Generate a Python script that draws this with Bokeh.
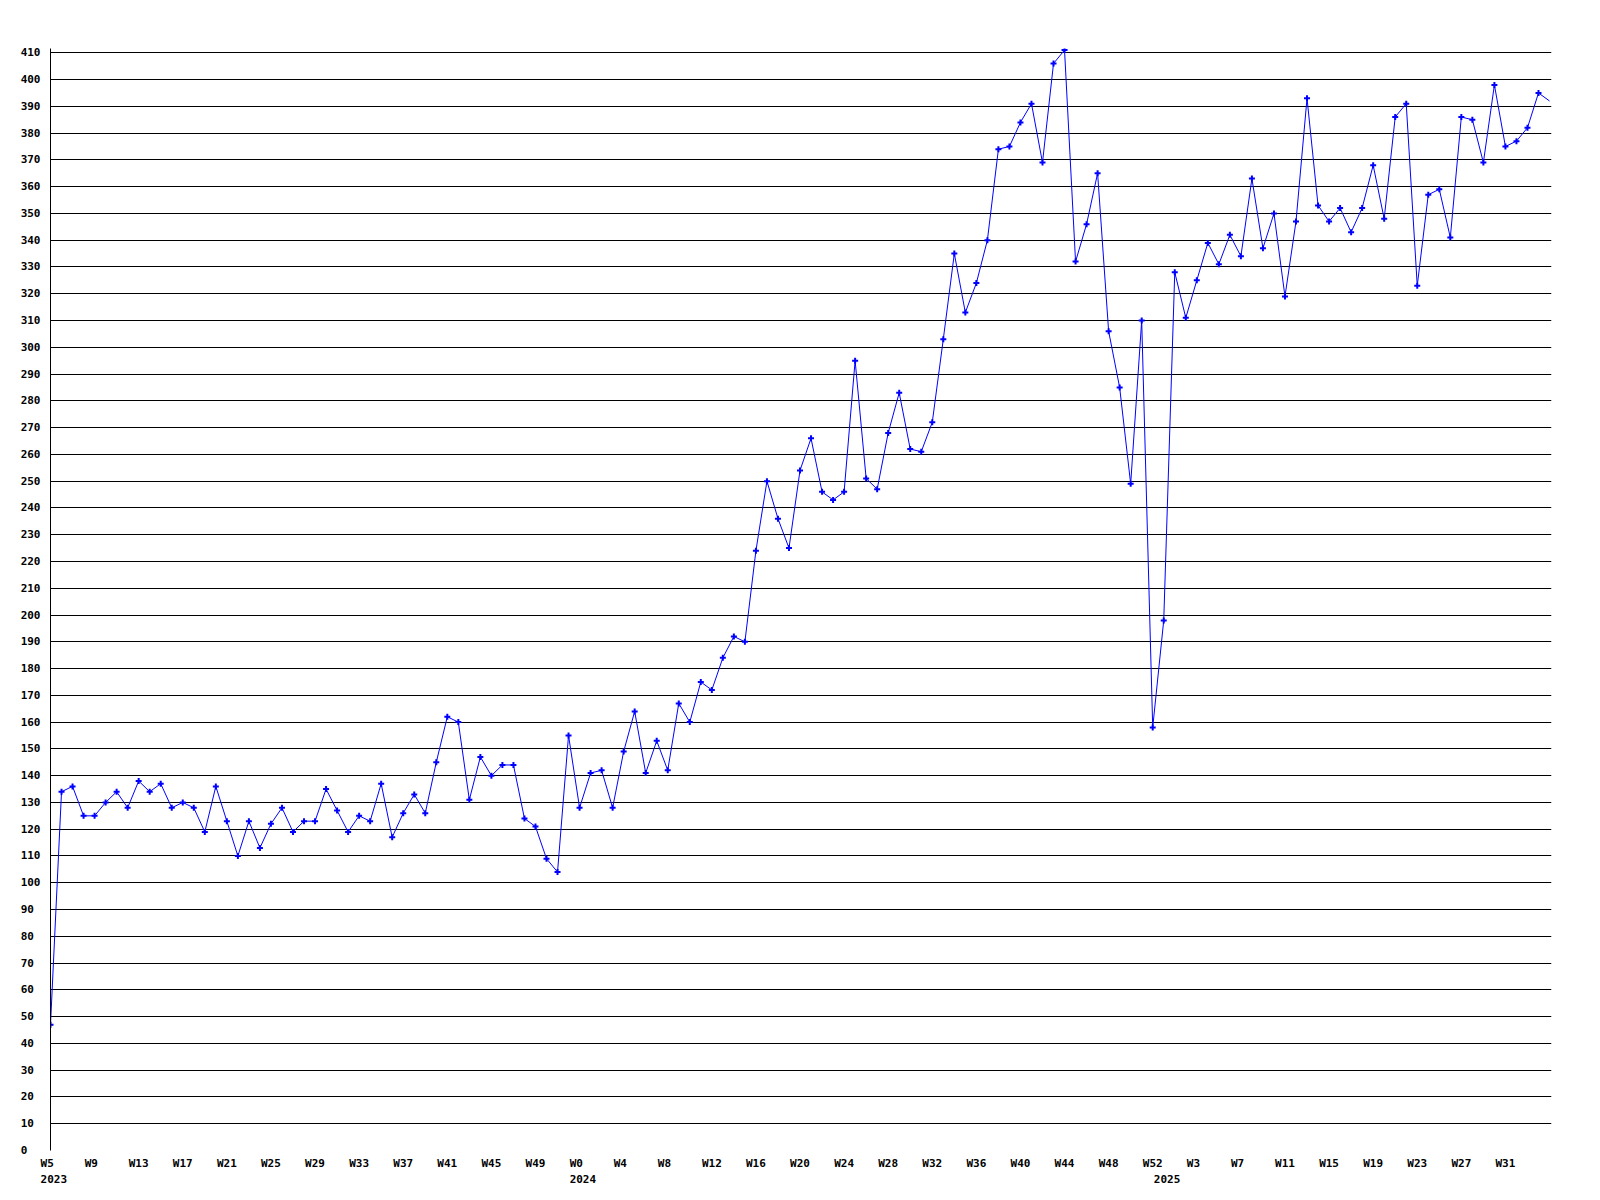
from bokeh.plotting import figure
from bokeh.models import Range1d, FixedTicker, LinearAxis, ColumnDataSource
from bokeh.embed import file_html
from bokeh.resources import INLINE

# ---- data -------------------------------------------------------------
years = [2023] * 48 + [2024] * 53 + [2025] * 36
weeks = list(range(5, 53)) + list(range(0, 53)) + list(range(0, 36))

values = [
    47, 134, 136, 125, 125, 130, 134, 128, 138, 134,
    137, 128, 130, 128, 119, 136, 123, 110, 123, 113,
    122, 128, 119, 123, 123, 135, 127, 119, 125, 123,
    137, 117, 126, 133, 126, 145, 162, 160, 131, 147,
    140, 144, 144, 124, 121, 109, 104, 155, 128, 141,
    142, 128, 149, 164, 141, 153, 142, 167, 160, 175,
    172, 184, 192, 190, 224, 250, 236, 225, 254, 266,
    246, 243, 246, 295, 251, 247, 268, 283, 262, 261,
    272, 303, 335, 313, 324, 340, 374, 375, 384, 391,
    369, 406, 411, 332, 346, 365, 306, 285, 249, 310,
    158, 198, 328, 311, 325, 339, 331, 342, 334, 363,
    337, 350, 319, 347, 393, 353, 347, 352, 343, 352,
    368, 348, 386, 391, 323, 357, 359, 341, 386, 385,
    369, 398, 375, 377, 382, 395, 392,
]

y_ticks = list(range(0, 411, 10))
week_tick_step = 4
last_week_tick = 132

# ---- derived ----------------------------------------------------------
idx = list(range(len(values)))
week_ticks = [i for i in idx[::week_tick_step] if i <= last_week_tick]
# labels are left-aligned in the original: pad to equal width
week_overrides = {i: f"W{weeks[i]}".ljust(3, "\u00a0") for i in week_ticks}
year_ticks = [i for i in idx if i == 0 or years[i] != years[i - 1]]
year_overrides = {i: str(years[i]) for i in year_ticks}
y_overrides = {v: str(v).ljust(3, "\u00a0") for v in y_ticks}

src_line = ColumnDataSource(dict(x=idx, y=values))
src_pts = ColumnDataSource(dict(x=idx[:-1], y=values[:-1]))

FONT = "DejaVu Sans Mono"
FS = "11px"
X_END = 136.18

p = figure(
    width=1568, height=1193,
    output_backend="svg", toolbar_location=None,
    x_range=Range1d(0, X_END), y_range=Range1d(0, 411.6),
    min_border_left=50, min_border_top=48, min_border_right=17, min_border_bottom=43,
    background_fill_color="white", border_fill_color="white",
)
p.outline_line_color = None
# year labels start slightly right of the week position
p.extra_x_ranges = {"years": Range1d(-0.3, X_END - 0.3)}

# y axis
ya = p.yaxis[0]
ya.ticker = FixedTicker(ticks=y_ticks)
ya.major_label_overrides = y_overrides
ya.axis_line_color = "black"
ya.axis_line_width = 1
ya.major_tick_line_color = None
ya.major_tick_out = 0
ya.major_tick_in = 0
ya.minor_tick_line_color = None
ya.minor_tick_out = 0
ya.major_label_standoff = 10
ya.major_label_text_font = FONT
ya.major_label_text_font_style = "bold"
ya.major_label_text_font_size = FS
ya.major_label_text_color = "black"

p.ygrid.ticker = FixedTicker(ticks=y_ticks)
p.ygrid.grid_line_color = "black"
p.ygrid.grid_line_alpha = 1.0
p.ygrid.grid_line_width = 1
p.xgrid.visible = False

# x axis (weeks)
xa = p.xaxis[0]
xa.ticker = FixedTicker(ticks=week_ticks)
xa.major_label_overrides = week_overrides
xa.axis_line_color = None
xa.major_tick_line_color = None
xa.major_tick_out = 0
xa.major_tick_in = 0
xa.minor_tick_line_color = None
xa.minor_tick_out = 0
xa.major_label_standoff = 6
xa.major_label_text_font = FONT
xa.major_label_text_font_style = "bold"
xa.major_label_text_font_size = FS
xa.major_label_text_color = "black"

# x axis (years)
yr_axis = LinearAxis(
    x_range_name="years",
    ticker=FixedTicker(ticks=year_ticks),
    major_label_overrides=year_overrides,
    axis_line_color=None,
    major_tick_line_color=None, major_tick_out=0, major_tick_in=0,
    minor_tick_line_color=None, minor_tick_out=0,
    major_label_standoff=2,
    major_label_text_font=FONT, major_label_text_font_style="bold",
    major_label_text_font_size=FS, major_label_text_color="black",
)
p.add_layout(yr_axis, "below")

p.line("x", "y", source=src_line, line_color="#0000ff", line_width=1)
p.scatter("x", "y", source=src_pts, marker="cross", size=6,
          line_color="#0000ff", line_width=2)

open("out.html", "w").write(file_html(p, INLINE))
